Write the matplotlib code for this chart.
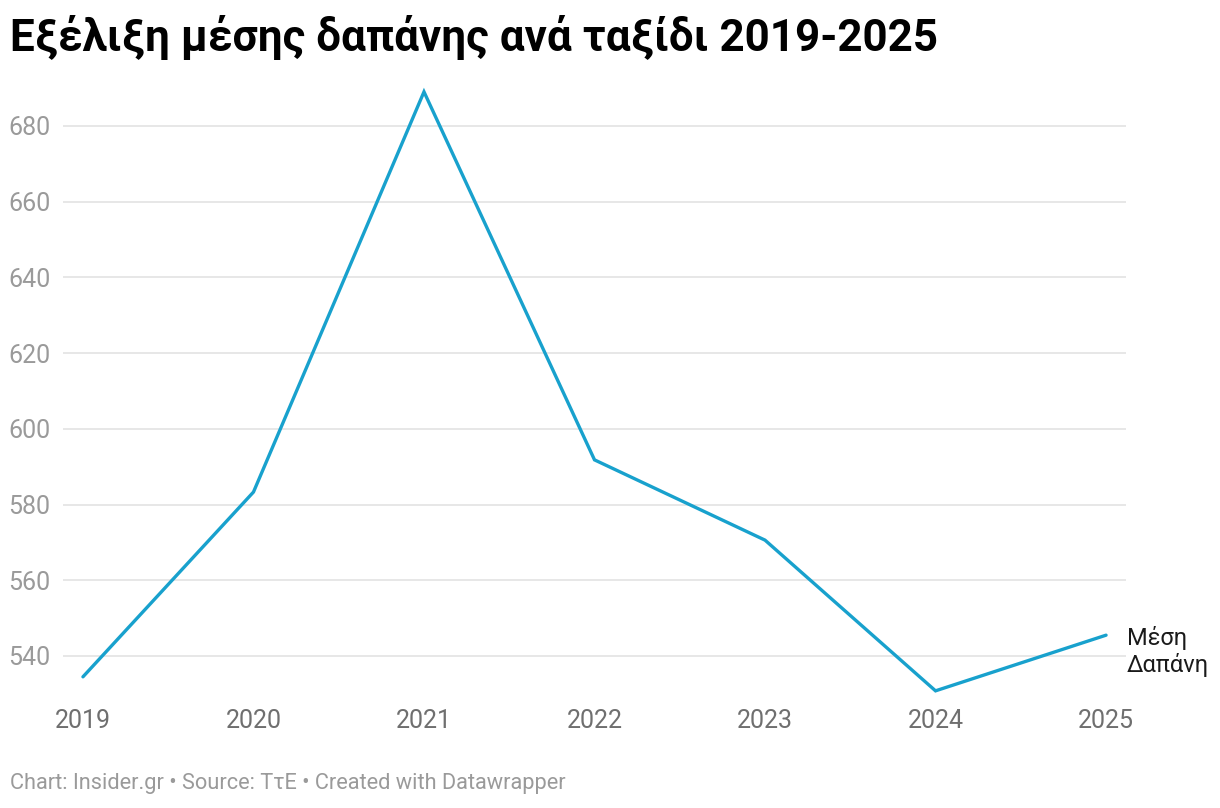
import matplotlib.pyplot as plt

# --- Dados ---
years = [2019, 2020, 2021, 2022, 2023, 2024, 2025]
avg_spend = [534.5, 583.3, 689.0, 591.8, 570.6, 530.8, 545.5]
y_ticks = [540, 560, 580, 600, 620, 640, 660, 680]

TITLE = "Εξέλιξη μέσης δαπάνης ανά ταξίδι 2019-2025"
SERIES_LABEL = "Μέση\nΔαπάνη"
FOOTER = "Chart: Insider.gr • Source: ΤτΕ • Created with Datawrapper"

plt.rcParams['font.family'] = ['Roboto', 'DejaVu Sans']

W, H = 1220, 808
fig = plt.figure(figsize=(W / 100, H / 100), dpi=100)
ax = fig.add_axes([63 / W, 1 - 695 / H, (1126 - 63) / W, (695 - 85) / H])

ax.plot(years, avg_spend, color='#18a1cd', linewidth=2.4, solid_capstyle='round',
        solid_joinstyle='miter', zorder=3)

ax.set_xlim(2018.883, 2025.117)
ax.set_ylim(529.7, 690.8)
ax.set_yticks(y_ticks)
ax.set_xticks(years)
ax.set_xticklabels([str(y) for y in years])
ax.grid(axis='y', color='#e3e3e3', linewidth=1.2)
ax.set_axisbelow(True)
for s in ax.spines.values():
    s.set_visible(False)
ax.tick_params(axis='both', length=0, labelsize=18, colors='#9a9a9a')
ax.tick_params(axis='x', pad=10, colors='#6f6f6f')
ax.tick_params(axis='y', pad=9)

ax.annotate(SERIES_LABEL, xy=(years[-1], avg_spend[-1]), xytext=(15, -12),
            textcoords='offset points', va='center', ha='left',
            fontsize=17, color='#1a1a1a', linespacing=1.15, annotation_clip=False)

fig.text(10 / W, 1 - 38 / H, TITLE, fontsize=31.7, fontweight='bold', color='#000000',
         va='center', ha='left')
fig.text(10 / W, 1 - 784 / H, FOOTER, fontsize=15.7, color='#9a9a9a', va='center', ha='left')

fig.savefig('out.png', dpi=100)
